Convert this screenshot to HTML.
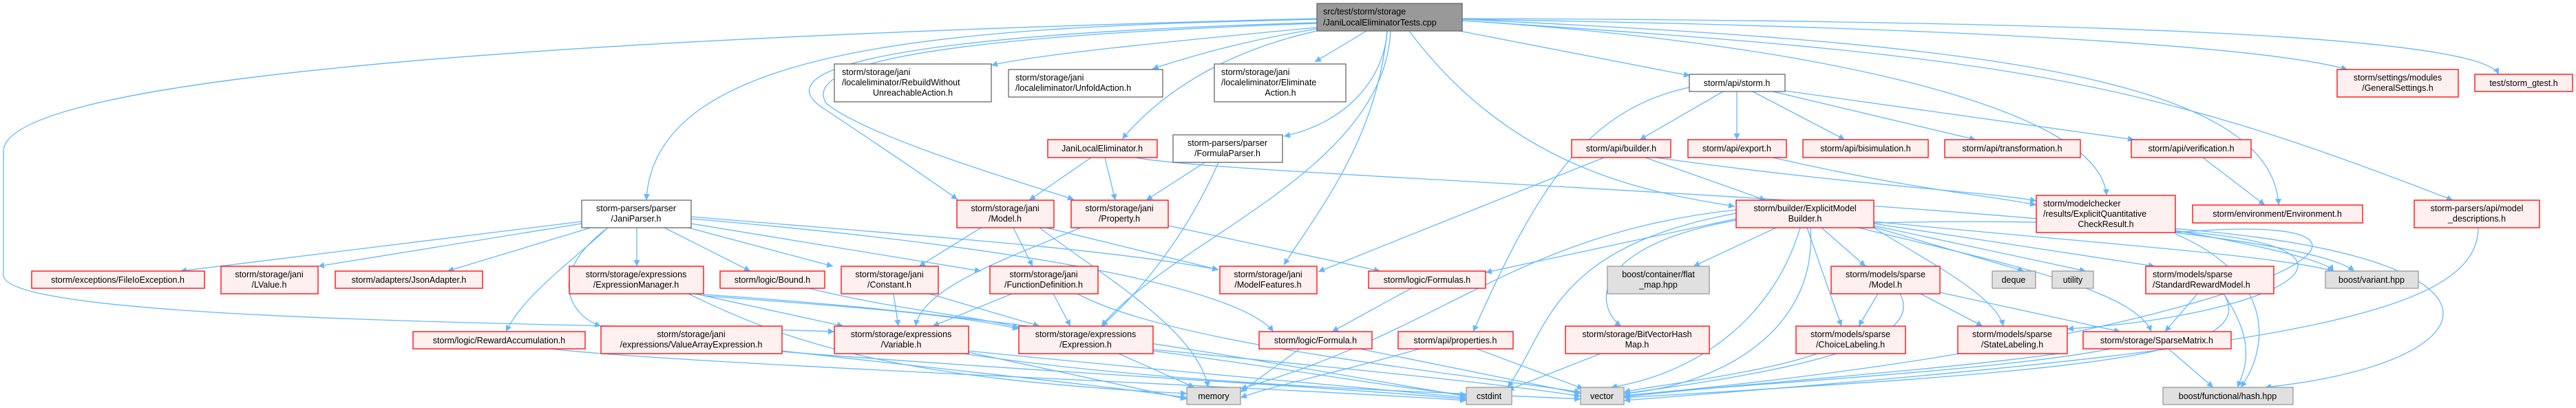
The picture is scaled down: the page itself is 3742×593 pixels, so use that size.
<!DOCTYPE html>
<html><head><meta charset="utf-8"><style>
html,body{margin:0;padding:0;background:#fff;}
svg{display:block;}
text{font-family:"Liberation Sans",sans-serif;font-size:12.5px;fill:#000;}
.e{fill:none;stroke:#63B8FF;stroke-width:1.3;}
.r{fill:#FFF0F0;stroke:#FF0000;stroke-width:1.3;}
.g{fill:#E0E0E0;stroke:#999;stroke-width:1.3;}
.w{fill:#fff;stroke:#666;stroke-width:1.3;}
.root{fill:#999;stroke:#666;stroke-width:1.3;}
</style></head><body>
<svg width="3742" height="593" viewBox="0 0 3742 593" xmlns="http://www.w3.org/2000/svg">
<defs><marker id="a" viewBox="0 0 10 10" refX="10" refY="5" markerWidth="9" markerHeight="9" markerUnits="userSpaceOnUse" orient="auto"><path d="M0,0 L10,5 L0,10 z" fill="#63B8FF"/></marker></defs>
<g class="e" marker-end="url(#a)">
<path d="M1913,28 C1400,40 950,60 939,291"/>
<path d="M1913,27 C1000,50 5,100 5,220 L5,400 C5,470 900,470 1212,482"/>
<path d="M1913,40 C1700,60 1500,80 1440,95"/>
<path d="M1913,42 C1800,60 1720,85 1674,100"/>
<path d="M1985,45 L1910,90"/>
<path d="M1913,45 C1800,70 1700,120 1630,202"/>
<path d="M2015,45 C2010,120 1950,180 1865,198"/>
<path d="M1913,33 C1300,50 1100,100 1200,160 C1260,200 1350,260 1391,290"/>
<path d="M1913,34 C1300,55 1170,100 1200,150 C1260,200 1500,270 1560,290"/>
<path d="M2015,45 C2000,200 1920,300 1865,385"/>
<path d="M2020,45 C2010,250 1700,350 1600,474"/>
<path d="M2120,45 L2455,110"/>
<path d="M2047,45 C2200,250 2400,280 2520,300"/>
<path d="M2124,30 C2600,60 3050,150 3060,284"/>
<path d="M2124,28 C2800,60 3300,100 3310,298"/>
<path d="M2124,28 C2900,40 3300,70 3410,101"/>
<path d="M2124,27 C3000,30 3600,50 3630,108"/>
<path d="M2124,30 C2900,80 3100,110 3563,291"/>
<path d="M845,322 L262,394"/>
<path d="M845,325 L462,387"/>
<path d="M858,331 L650,394"/>
<path d="M925,331 L925,387"/>
<path d="M883,331 C830,380 760,430 735,482"/>
<path d="M883,331 C790,400 830,460 873,474"/>
<path d="M965,331 L1090,394"/>
<path d="M1000,331 L1210,387"/>
<path d="M1004,325 L1425,394"/>
<path d="M1004,315 C1300,340 1600,360 1770,392"/>
<path d="M1004,318 C1500,360 1800,420 1850,482"/>
<path d="M1585,229 L1495,291"/>
<path d="M1605,229 L1620,291"/>
<path d="M1650,229 C1800,260 3300,300 3420,394"/>
<path d="M1750,236 L1665,291"/>
<path d="M1770,236 C1720,350 1650,430 1600,474"/>
<path d="M1425,331 L1335,387"/>
<path d="M1472,331 L1500,387"/>
<path d="M1520,331 L1770,392"/>
<path d="M1510,331 C1600,400 1740,480 1755,563"/>
<path d="M1570,331 C1450,380 1340,420 1330,474"/>
<path d="M1697,328 L2005,394"/>
<path d="M1298,427 L1305,474"/>
<path d="M1350,427 L1510,474"/>
<path d="M1470,427 L1355,474"/>
<path d="M1530,427 L1555,474"/>
<path d="M1565,427 C1700,500 2100,540 2296,570"/>
<path d="M1010,427 L1225,474"/>
<path d="M1022,430 C1300,450 1400,460 1480,478"/>
<path d="M1000,427 C1150,500 1300,550 1724,572"/>
<path d="M1022,428 C1500,460 1800,520 2130,576"/>
<path d="M1175,419 C1300,450 1420,460 1480,476"/>
<path d="M1136,510 C1400,540 1600,560 1724,578"/>
<path d="M1136,511 C1500,540 1900,560 2130,580"/>
<path d="M800,507 C1000,530 1800,560 2130,582"/>
<path d="M1407,512 L1724,580"/>
<path d="M1407,510 C1700,540 1950,560 2130,578"/>
<path d="M1400,514 C1700,560 2100,570 2296,580"/>
<path d="M1625,514 L1735,563"/>
<path d="M1675,510 C1900,540 2000,560 2130,574"/>
<path d="M1675,508 C2000,540 2200,560 2296,576"/>
<path d="M2050,419 L1935,482"/>
<path d="M1888,507 L1802,570"/>
<path d="M1975,507 L2296,572"/>
<path d="M2062,507 C1950,540 1850,560 1802,578"/>
<path d="M2145,507 L2300,565"/>
<path d="M2503,133 L2382,203"/>
<path d="M2523,133 L2523,203"/>
<path d="M2546,133 L2680,203"/>
<path d="M2575,133 L2870,203"/>
<path d="M2593,132 L3100,203"/>
<path d="M2454,127 C2300,160 2230,280 2140,482"/>
<path d="M2330,229 C2100,320 1950,380 1915,395"/>
<path d="M2390,229 L2565,291"/>
<path d="M2405,229 C2700,270 2900,280 2958,292"/>
<path d="M2575,229 C2800,280 2900,285 2958,298"/>
<path d="M3200,229 L3290,298"/>
<path d="M3160,335 C3300,360 3380,380 3390,394"/>
<path d="M3160,338 C3600,300 3300,490 2359,575"/>
<path d="M3160,340 C3300,400 3300,500 3255,563"/>
<path d="M3160,336 C3500,360 3300,460 3003,478"/>
<path d="M2522,318 L2158,396"/>
<path d="M2580,331 L2460,387"/>
<path d="M2522,320 C2300,360 2320,450 2355,474"/>
<path d="M2522,310 C2250,360 2250,480 2190,563"/>
<path d="M2522,305 C2200,340 2100,480 1802,565"/>
<path d="M2615,331 C2580,450 2480,540 2340,563"/>
<path d="M2630,331 C2640,480 2500,560 2359,572"/>
<path d="M2646,331 L2710,387"/>
<path d="M2625,331 L2675,474"/>
<path d="M2722,330 L2940,394"/>
<path d="M2722,328 L3030,394"/>
<path d="M2722,325 L3130,387"/>
<path d="M2722,322 C3000,350 3300,370 3390,394"/>
<path d="M2722,331 C2800,380 2900,430 2910,474"/>
<path d="M2700,331 C2900,380 3100,420 3125,482"/>
<path d="M2722,324 C3700,300 3700,520 3290,563"/>
<path d="M2728,427 L2700,474"/>
<path d="M2790,427 L2880,474"/>
<path d="M2818,425 L3080,482"/>
<path d="M2760,427 C2800,500 2600,540 2359,572"/>
<path d="M3192,427 L3145,482"/>
<path d="M3230,427 C3280,500 3260,540 3250,563"/>
<path d="M3230,427 C3290,520 3000,540 2359,578"/>
<path d="M3150,507 L3215,563"/>
<path d="M3066,507 C2900,540 2500,560 2359,575"/>
<path d="M2990,514 C2800,540 2500,560 2359,577"/>
<path d="M2325,514 L2190,567"/>
<path d="M2640,514 C2550,545 2400,560 2359,570"/>
<path d="M3600,331 C3600,460 3300,510 2359,582"/>
</g>
<g>
<rect class="root" x="1913" y="5" width="211" height="40"/>
<text x="1922" y="21">src/test/storm/storage</text><text x="1922" y="37">/JaniLocalEliminatorTests.cpp</text>

<rect class="w" x="845" y="291" width="159" height="40"/>
<text x="924" y="307" text-anchor="middle">storm-parsers/parser</text><text x="924" y="322" text-anchor="middle">/JaniParser.h</text>

<rect class="r" x="46" y="394" width="251" height="25"/><text x="171" y="411" text-anchor="middle">storm/exceptions/FileIoException.h</text>
<rect class="r" x="321" y="387" width="141" height="40"/><text x="391" y="403" text-anchor="middle">storm/storage/jani</text><text x="391" y="418" text-anchor="middle">/LValue.h</text>
<rect class="r" x="487" y="394" width="214" height="25"/><text x="594" y="411" text-anchor="middle">storm/adapters/JsonAdapter.h</text>
<rect class="r" x="827" y="387" width="195" height="40"/><text x="924" y="403" text-anchor="middle">storm/storage/expressions</text><text x="924" y="418" text-anchor="middle">/ExpressionManager.h</text>
<rect class="r" x="600" y="482" width="250" height="25"/><text x="725" y="499" text-anchor="middle">storm/logic/RewardAccumulation.h</text>
<rect class="r" x="873" y="474" width="263" height="40"/><text x="1004" y="490" text-anchor="middle">storm/storage/jani</text><text x="1004" y="505" text-anchor="middle">/expressions/ValueArrayExpression.h</text>

<rect class="w" x="1212" y="93" width="228" height="55"/>
<text x="1223" y="109">storm/storage/jani</text><text x="1223" y="124">/localeliminator/RebuildWithout</text><text x="1326" y="139" text-anchor="middle">UnreachableAction.h</text>
<rect class="w" x="1465" y="101" width="224" height="40"/>
<text x="1475" y="117">storm/storage/jani</text><text x="1475" y="132">/localeliminator/UnfoldAction.h</text>
<rect class="w" x="1764" y="93" width="191" height="55"/>
<text x="1774" y="109">storm/storage/jani</text><text x="1774" y="124">/localeliminator/Eliminate</text><text x="1860" y="139" text-anchor="middle">Action.h</text>

<rect class="r" x="1522" y="203" width="159" height="26"/><text x="1601" y="220" text-anchor="middle">JaniLocalEliminator.h</text>
<rect class="w" x="1704" y="196" width="159" height="40"/><text x="1783" y="212" text-anchor="middle">storm-parsers/parser</text><text x="1783" y="227" text-anchor="middle">/FormulaParser.h</text>

<rect class="r" x="1390" y="291" width="141" height="40"/><text x="1460" y="307" text-anchor="middle">storm/storage/jani</text><text x="1460" y="322" text-anchor="middle">/Model.h</text>
<rect class="r" x="1556" y="291" width="141" height="40"/><text x="1626" y="307" text-anchor="middle">storm/storage/jani</text><text x="1626" y="322" text-anchor="middle">/Property.h</text>

<rect class="r" x="1046" y="394" width="152" height="25"/><text x="1122" y="411" text-anchor="middle">storm/logic/Bound.h</text>
<rect class="r" x="1222" y="387" width="141" height="40"/><text x="1292" y="403" text-anchor="middle">storm/storage/jani</text><text x="1292" y="418" text-anchor="middle">/Constant.h</text>
<rect class="r" x="1438" y="387" width="157" height="40"/><text x="1516" y="403" text-anchor="middle">storm/storage/jani</text><text x="1516" y="418" text-anchor="middle">/FunctionDefinition.h</text>
<rect class="r" x="1772" y="387" width="141" height="40"/><text x="1842" y="403" text-anchor="middle">storm/storage/jani</text><text x="1842" y="418" text-anchor="middle">/ModelFeatures.h</text>

<rect class="r" x="1212" y="474" width="195" height="40"/><text x="1309" y="490" text-anchor="middle">storm/storage/expressions</text><text x="1309" y="505" text-anchor="middle">/Variable.h</text>
<rect class="r" x="1480" y="474" width="195" height="40"/><text x="1577" y="490" text-anchor="middle">storm/storage/expressions</text><text x="1577" y="505" text-anchor="middle">/Expression.h</text>
<rect class="g" x="1724" y="563" width="78" height="25"/><text x="1763" y="580" text-anchor="middle">memory</text>
<rect class="r" x="1829" y="482" width="164" height="25"/><text x="1911" y="499" text-anchor="middle">storm/logic/Formula.h</text>
<rect class="r" x="1988" y="394" width="170" height="25"/><text x="2073" y="411" text-anchor="middle">storm/logic/Formulas.h</text>
<rect class="r" x="2031" y="482" width="167" height="25"/><text x="2114" y="499" text-anchor="middle">storm/api/properties.h</text>

<rect class="w" x="2454" y="108" width="139" height="25"/><text x="2523" y="125" text-anchor="middle">storm/api/storm.h</text>
<rect class="r" x="2283" y="203" width="144" height="26"/><text x="2355" y="220" text-anchor="middle">storm/api/builder.h</text>
<rect class="r" x="2452" y="203" width="143" height="26"/><text x="2523" y="220" text-anchor="middle">storm/api/export.h</text>
<rect class="r" x="2619" y="203" width="182" height="26"/><text x="2710" y="220" text-anchor="middle">storm/api/bisimulation.h</text>
<rect class="r" x="2825" y="203" width="197" height="26"/><text x="2923" y="220" text-anchor="middle">storm/api/transformation.h</text>
<rect class="r" x="3096" y="203" width="174" height="26"/><text x="3183" y="220" text-anchor="middle">storm/api/verification.h</text>
<rect class="r" x="3395" y="101" width="176" height="40"/><text x="3483" y="117" text-anchor="middle">storm/settings/modules</text><text x="3483" y="132" text-anchor="middle">/GeneralSettings.h</text>
<rect class="r" x="3595" y="108" width="142" height="25"/><text x="3666" y="125" text-anchor="middle">test/storm_gtest.h</text>

<rect class="r" x="2958" y="284" width="202" height="54"/><text x="2968" y="300">storm/modelchecker</text><text x="2968" y="315">/results/ExplicitQuantitative</text><text x="3059" y="330" text-anchor="middle">CheckResult.h</text>
<rect class="r" x="3185" y="298" width="247" height="26"/><text x="3308" y="315" text-anchor="middle">storm/environment/Environment.h</text>
<rect class="r" x="3507" y="291" width="182" height="40"/><text x="3598" y="307" text-anchor="middle">storm-parsers/api/model</text><text x="3598" y="322" text-anchor="middle">_descriptions.h</text>

<rect class="r" x="2522" y="291" width="200" height="40"/><text x="2622" y="307" text-anchor="middle">storm/builder/ExplicitModel</text><text x="2622" y="322" text-anchor="middle">Builder.h</text>
<rect class="g" x="2335" y="387" width="148" height="40"/><text x="2409" y="403" text-anchor="middle">boost/container/flat</text><text x="2409" y="418" text-anchor="middle">_map.hpp</text>
<rect class="r" x="2660" y="387" width="158" height="40"/><text x="2739" y="403" text-anchor="middle">storm/models/sparse</text><text x="2739" y="418" text-anchor="middle">/Model.h</text>
<rect class="g" x="2894" y="394" width="63" height="25"/><text x="2925" y="411" text-anchor="middle">deque</text>
<rect class="g" x="2981" y="394" width="60" height="25"/><text x="3011" y="411" text-anchor="middle">utility</text>
<rect class="r" x="3117" y="387" width="186" height="40"/><text x="3127" y="403">storm/models/sparse</text><text x="3127" y="418">/StandardRewardModel.h</text>
<rect class="g" x="3378" y="394" width="135" height="25"/><text x="3445" y="411" text-anchor="middle">boost/variant.hpp</text>

<rect class="r" x="2274" y="474" width="209" height="40"/><text x="2378" y="490" text-anchor="middle">storm/storage/BitVectorHash</text><text x="2378" y="505" text-anchor="middle">Map.h</text>
<rect class="r" x="2609" y="474" width="159" height="40"/><text x="2688" y="490" text-anchor="middle">storm/models/sparse</text><text x="2688" y="505" text-anchor="middle">/ChoiceLabeling.h</text>
<rect class="r" x="2844" y="474" width="159" height="40"/><text x="2923" y="490" text-anchor="middle">storm/models/sparse</text><text x="2923" y="505" text-anchor="middle">/StateLabeling.h</text>
<rect class="r" x="3026" y="482" width="215" height="25"/><text x="3133" y="499" text-anchor="middle">storm/storage/SparseMatrix.h</text>

<rect class="g" x="2130" y="563" width="66" height="25"/><text x="2163" y="580" text-anchor="middle">cstdint</text>
<rect class="g" x="2296" y="563" width="63" height="25"/><text x="2327" y="580" text-anchor="middle">vector</text>
<rect class="g" x="3142" y="563" width="189" height="25"/><text x="3236" y="580" text-anchor="middle">boost/functional/hash.hpp</text>
</g>
</svg>
</body></html>
